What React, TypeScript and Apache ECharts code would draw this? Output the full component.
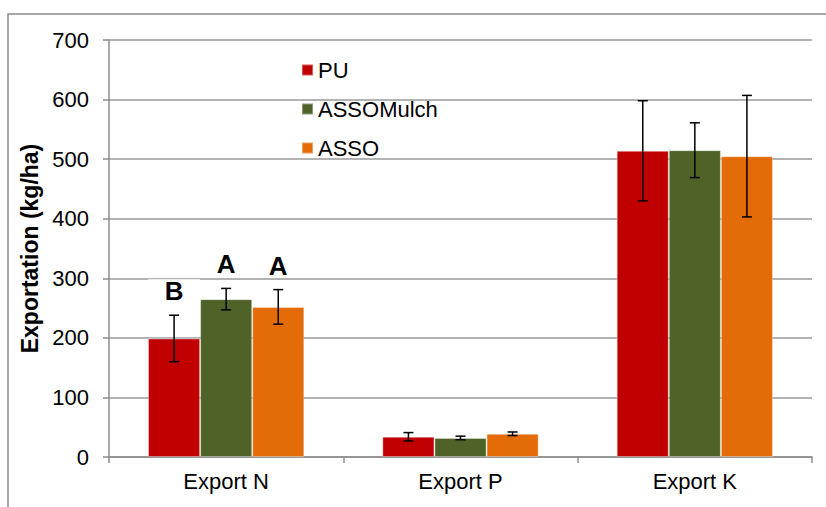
import React, { useEffect, useRef } from "react";
import * as echarts from "echarts";

const categories = ["Export N", "Export P", "Export K"];
const seriesNames = ["PU", "ASSOMulch", "ASSO"];
const puMean = [199, 34, 514];
const puErr = [39, 7, 84];
const assoMulchMean = [265, 32, 515];
const assoMulchErr = [18, 3, 46];
const assoMean = [252, 39, 505];
const assoErr = [29, 3, 102];
const letterLabels = ["B", "A", "A"]; // significance letters for Export N
const colors = ["#C00000", "#4F6228", "#E36C09"];
const yMin = 0;
const yMax = 700;
const yInterval = 100;

const means = [puMean, assoMulchMean, assoMean];
const errs = [puErr, assoMulchErr, assoErr];
const CAT_GAP = 1 / 3;
const FONT = "'Liberation Sans', Arial, sans-serif";

export default function App() {
  const ref = useRef<HTMLDivElement>(null);
  useEffect(() => {
    if (!ref.current) return;
    const chart = echarts.init(ref.current, null, { renderer: "svg" });
    const n = seriesNames.length;

    const barSeries = seriesNames.map((name, i) => ({
      name,
      type: "bar",
      data: means[i],
      barGap: "0%",
      barCategoryGap: "33.3%",
      itemStyle: { color: colors[i], borderColor: "rgba(255,255,255,0.35)", borderWidth: 1 },
      z: 2,
    }));

    const errSeries = seriesNames.map((name, i) => ({
      type: "custom",
      name: name + "_err",
      z: 5,
      silent: true,
      data: categories.map((_, c) => [c, means[i][c], errs[i][c]]),
      renderItem: (params: any, api: any) => {
        const c = api.value(0);
        const m = api.value(1);
        const e = api.value(2);
        const top = api.coord([c, m + e]);
        const bot = api.coord([c, m - e]);
        const catW = api.size([1, 0])[0];
        const bw = (catW * (1 - CAT_GAP)) / n;
        const x = top[0] + (i - (n - 1) / 2) * bw;
        const cap = 5;
        const st = { stroke: "#000", lineWidth: 1.5 };
        return {
          type: "group",
          children: [
            { type: "line", shape: { x1: x, y1: top[1], x2: x, y2: bot[1] }, style: st },
            { type: "line", shape: { x1: x - cap, y1: top[1], x2: x + cap, y2: top[1] }, style: st },
            { type: "line", shape: { x1: x - cap, y1: bot[1], x2: x + cap, y2: bot[1] }, style: st },
          ],
        };
      },
    }));

    const letterSeries = {
      type: "custom",
      name: "letters",
      z: 4,
      silent: true,
      data: letterLabels.map((_, i) => [0, means[i][0] + errs[i][0], i]),
      renderItem: (params: any, api: any) => {
        const c = api.value(0);
        const v = api.value(1);
        const i = api.value(2);
        const p = api.coord([c, v]);
        const catW = api.size([1, 0])[0];
        const bw = (catW * (1 - CAT_GAP)) / n;
        const x = p[0] + (i - (n - 1) / 2) * bw;
        const y = p[1] - 24;
        return {
          type: "group",
          children: [
            { type: "rect", shape: { x: x - bw / 2, y: y - 12, width: bw, height: 24 }, style: { fill: "#fff" } },
            {
              type: "text",
              x,
              y,
              style: {
                text: letterLabels[i],
                fill: "#000",
                font: `bold 26px ${FONT}`,
                align: "center",
                verticalAlign: "middle",
              },
            },
          ],
        };
      },
    };

    chart.setOption({
      animation: false,
      textStyle: { fontFamily: FONT },
      grid: { left: 109, right: 14, top: 40, bottom: 50, containLabel: false },
      legend: {
        data: seriesNames,
        orient: "vertical",
        left: 301,
        top: 59,
        padding: 0,
        itemWidth: 11,
        itemHeight: 11,
        itemGap: 17,
        icon: "rect",
        textStyle: { fontSize: 22, color: "#000", fontFamily: FONT, lineHeight: 22 },
      },
      xAxis: {
        type: "category",
        data: categories,
        axisLine: { lineStyle: { color: "#8c8c8c", width: 1.5 } },
        axisTick: { show: true, length: 6, lineStyle: { color: "#8c8c8c", width: 1.5 } },
        axisLabel: { fontSize: 22, color: "#000", margin: 13, fontFamily: FONT },
        splitLine: { show: false },
      },
      yAxis: {
        type: "value",
        min: yMin,
        max: yMax,
        interval: yInterval,
        name: "Exportation (kg/ha)",
        nameLocation: "middle",
        nameGap: 65,
        nameTextStyle: { fontSize: 23, fontWeight: "bold", color: "#000", fontFamily: FONT },
        axisLine: { show: true, lineStyle: { color: "#8c8c8c", width: 1.5 } },
        axisTick: { show: true, length: 6, lineStyle: { color: "#8c8c8c", width: 1.5 } },
        axisLabel: { fontSize: 22, color: "#000", margin: 20, fontFamily: FONT },
        splitLine: { show: true, lineStyle: { color: "#9a9a9a", width: 1.5 } },
      },
      graphic: [
        {
          type: "rect",
          shape: { x: 8, y: 14, width: 840, height: 520 },
          style: { fill: "none", stroke: "#8a8a8a", lineWidth: 1.5 },
          silent: true,
          z: -1,
        },
      ],
      series: [...barSeries, ...errSeries, letterSeries],
    });
    return () => chart.dispose();
  }, []);

  return (
    <div
      ref={ref}
      style={{ position: "absolute", left: 0, top: 0, width: 826, height: 507, background: "#fff" }}
    />
  );
}
